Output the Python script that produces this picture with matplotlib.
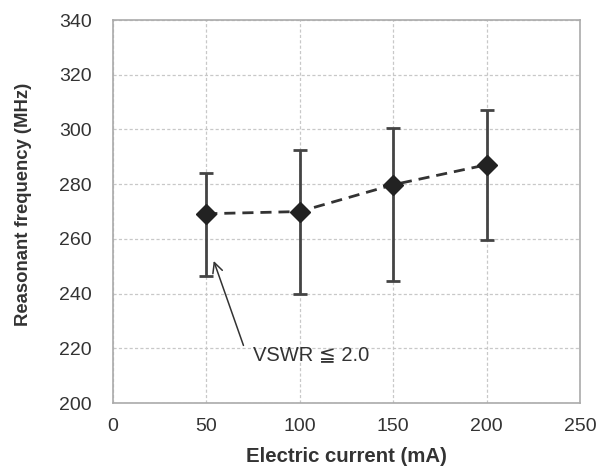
import matplotlib
matplotlib.use("Agg")
import matplotlib.pyplot as plt

current = [50, 100, 150, 200]
freq = [269.2, 270.0, 279.8, 287.1]
freq_high = [284.1, 292.6, 300.4, 307.2]
freq_low = [246.4, 239.7, 244.6, 259.5]
xticks = [0, 50, 100, 150, 200, 250]
yticks = [200, 220, 240, 260, 280, 300, 320, 340]

plt.rcParams['font.family'] = ['Liberation Sans', 'DejaVu Sans']

fig = plt.figure(figsize=(5.97, 4.67), dpi=100)
ax = fig.add_axes([0.189, 0.137, 0.7825, 0.820])

yerr = [[f - l for f, l in zip(freq, freq_low)], [h - f for f, h in zip(freq, freq_high)]]
ax.errorbar(current, freq, yerr=yerr, fmt='none', ecolor='#444444', elinewidth=2,
            capsize=5, capthick=2, zorder=3)
ax.plot(current, freq, linestyle=(0, (4, 2.5)), color='#333333', linewidth=2,
        marker='D', markersize=10.5, markerfacecolor='#222222', markeredgecolor='#222222', zorder=4)

ax.set_xlim(0, 250)
ax.set_ylim(200, 340)
ax.set_xticks(xticks)
ax.set_yticks(yticks)
ax.tick_params(axis='both', length=0, labelsize=14, labelcolor='#333333')
ax.tick_params(axis='x', pad=11)
ax.tick_params(axis='y', pad=15)
ax.grid(True, linestyle=(0, (2.5, 1.8)), color='#c8c8c8', linewidth=0.9)
ax.set_axisbelow(True)
for s in ax.spines.values():
    s.set_color('#aaaaaa')
    s.set_linewidth(1.2)

ax.set_xlabel('Electric current (mA)', fontsize=14.7, fontweight='bold', color='#333333')
ax.set_ylabel('Reasonant frequency (MHz)', fontsize=13.3, fontweight='bold', color='#333333')
ax.xaxis.set_label_coords(0.5, -0.115)
ax.yaxis.set_label_coords(-0.172, 0.52)

ax.annotate('', xy=(53.5, 252.9), xytext=(70.4, 220.1),
            arrowprops=dict(arrowstyle='->', color='#333333', lw=1.1, mutation_scale=18))
ax.text(75, 217.5, 'VSWR \u2266 2.0', fontsize=14.5, color='#333333', va='center', ha='left')

fig.savefig('out.png', dpi=100)
